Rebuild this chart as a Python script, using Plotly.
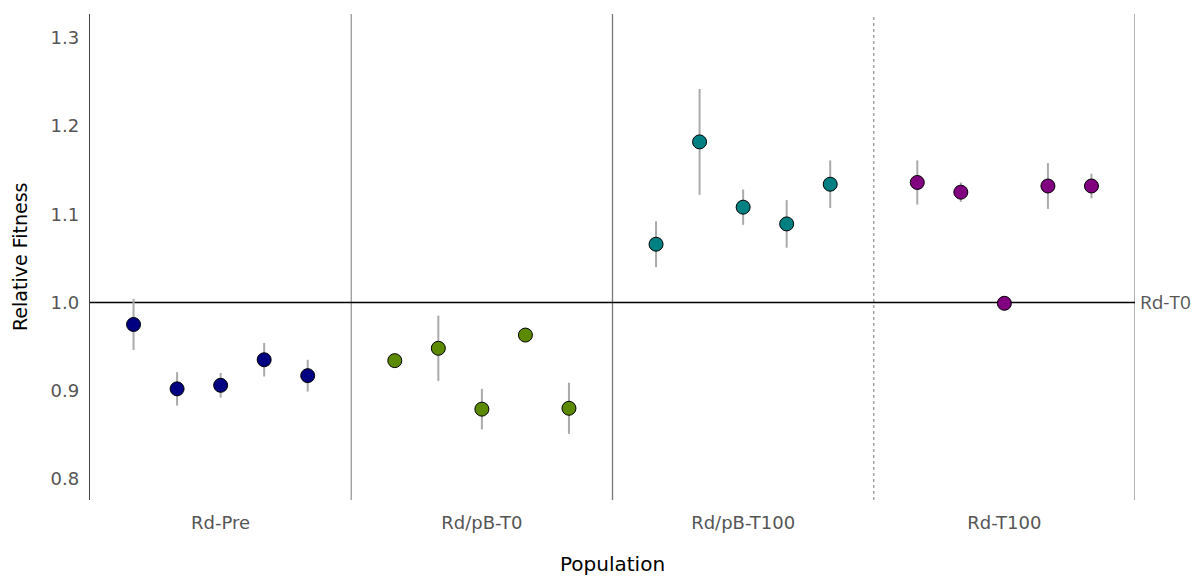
import plotly.graph_objects as go

groups = ["Rd-Pre", "Rd/pB-T0", "Rd/pB-T100", "Rd-T100"]
colors = ["#000080", "#5b8a00", "#008080", "#800080"]
x_pos = [
    [1, 2, 3, 4, 5],
    [7, 8, 9, 10, 11],
    [13, 14, 15, 16, 17],
    [19, 20, 21, 22, 23],
]
fitness = [
    [0.975, 0.902, 0.906, 0.935, 0.917],
    [0.934, 0.948, 0.879, 0.963, 0.880],
    [1.066, 1.182, 1.108, 1.089, 1.134],
    [1.136, 1.125, 0.999, 1.132, 1.132],
]
errors = [
    [0.029, 0.019, 0.014, 0.019, 0.018],
    [0.0, 0.037, 0.023, 0.006, 0.029],
    [0.026, 0.060, 0.020, 0.027, 0.027],
    [0.025, 0.011, 0.0, 0.026, 0.014],
]
group_centers = [3, 9, 15, 21]
separators = [6, 12, 18, 24]
sep_styles = [("#999999", "solid"), ("#777777", "solid"), ("#999999", "dot"), ("#888888", "solid")]
y_ticks = [0.8, 0.9, 1.0, 1.1, 1.2, 1.3]

fig = go.Figure()

for sx, (col, dash) in zip(separators, sep_styles):
    fig.add_shape(type="line", xref="x", yref="paper", x0=sx, x1=sx, y0=0, y1=1,
                  line=dict(color=col, width=1.3, dash=dash), layer="below")

fig.add_shape(type="line", xref="paper", yref="y", x0=0, x1=1, y0=1.0, y1=1.0,
              line=dict(color="black", width=1.5), layer="below")

for g, c, xs, ys, es in zip(groups, colors, x_pos, fitness, errors):
    fig.add_trace(go.Scatter(
        x=xs, y=ys, mode="markers", name=g,
        error_y=dict(type="data", array=es, visible=True, color="#aaaaaa",
                     thickness=2, width=0),
        marker=dict(color=c, size=14, line=dict(color="black", width=1)),
        showlegend=False,
    ))

fig.add_annotation(x=1, xref="paper", y=1.0, yref="y", text="Rd-T0", showarrow=False,
                   xanchor="left", xshift=3,
                   font=dict(family="Open Sans", size=19, color="#555555"))
fig.add_annotation(x=0.5, xref="paper", y=0, yref="paper", text="Population", showarrow=False,
                   xanchor="center", yanchor="middle", yshift=-64,
                   font=dict(family="DejaVu Sans", size=20, color="black"))
fig.add_annotation(x=0, xref="paper", y=0.5, yref="paper", text="Relative Fitness", showarrow=False,
                   xanchor="center", yanchor="middle", xshift=-70, textangle=-90,
                   font=dict(family="DejaVu Sans", size=19, color="black"))

fig.update_layout(
    width=1198, height=576,
    margin=dict(l=90, r=63, t=14, b=76),
    plot_bgcolor="white", paper_bgcolor="white",
    font=dict(family="DejaVu Sans", size=18, color="#555555"),
    xaxis=dict(range=[0, 24], tickvals=group_centers, ticktext=groups, automargin=False,
               showgrid=False, zeroline=False, showline=False,
               ticks="outside", ticklen=6, tickcolor="rgba(0,0,0,0)",
               tickfont=dict(size=18, color="#555555")),
    yaxis=dict(range=[0.776, 1.327], tickvals=y_ticks, ticktext=["0.8", "0.9", "1.0", "1.1", "1.2", "1.3"],
               automargin=False,
               showgrid=False, zeroline=False, showline=True, linecolor="#444444", linewidth=1.3,
               ticks="outside", ticklen=6, tickcolor="rgba(0,0,0,0)",
               tickfont=dict(size=18, color="#555555")),
)

fig.write_html("out.html", config={"displayModeBar": False},
               post_script="document.body.style.margin='0';")
